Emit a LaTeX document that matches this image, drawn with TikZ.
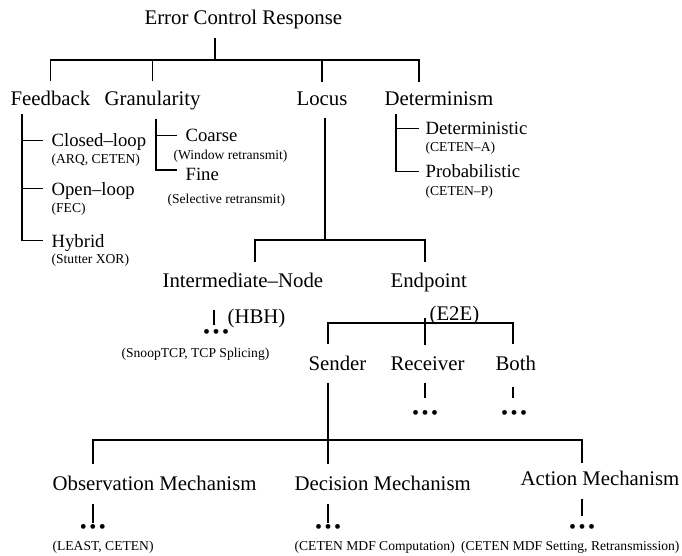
\documentclass[tikz,border=0pt]{standalone}
\usepackage{fontspec}
\setmainfont{Liberation Serif}
\tikzset{
  lbl/.style={inner sep=0pt, anchor=base west, font=\fontsize{20.8}{24}\selectfont},
  sub/.style={inner sep=0pt, anchor=base west, font=\fontsize{18.7}{22}\selectfont},
  note/.style={inner sep=0pt, anchor=base west, font=\fontsize{13.6}{16}\selectfont},
  more/.style={inner sep=0pt, font=\fontsize{20}{22}\selectfont},
}
\newcommand{\moredots}{\textbullet\hspace{2.5pt}\textbullet\hspace{2.5pt}\textbullet}
\begin{document}
\begin{tikzpicture}[x=1pt,y=-1pt,line width=1.2pt]
	\useasboundingbox (0,0) rectangle (682,556);
	% first level
	\node[lbl] (ecr) at (144,25) {Error Control Response};
	\node[lbl] (fb) at (10,106) {Feedback};
	\node[lbl] (gran) at (104,106) {Granularity};
	\node[lbl] (locus) at (296,106) {Locus};
	\node[lbl] (det) at (384,106) {Determinism};
	\coordinate (j-top) at (215,60);
	\draw (j-top |- ecr.south) ++(0,7.5) -- (j-top);
	\draw ([yshift=10pt]fb.north) |- (j-top) -| ([shift={(35pt,10pt)}]det.north west);
	\draw ([yshift=10pt]gran.north) -- (gran.north |- j-top);
	\draw ([yshift=10pt]locus.north) -- (locus.north |- j-top);
	% feedback
	\node[sub] (closed) at (51,147) {Closed--loop};
	\node[note] (closedx) at (51,164) {(ARQ, CETEN)};
	\node[sub] (open) at (51,195) {Open--loop};
	\node[note] (openx) at (51,212) {(FEC)};
	\node[sub] (hybrid) at (51,247) {Hybrid};
	\node[note] (hybridx) at (51,263) {(Stutter XOR)};
	\draw ([shift={(12pt,-7pt)}]fb.south west) |- ([shift={(-8pt,6.5pt)}]hybrid.base west);
	\draw ([shift={(-8pt,6.5pt)}]closed.base west) -- ++(-21,0);
	\draw ([shift={(-8pt,6.5pt)}]open.base west) -- ++(-21,0);
	% granularity
	\node[sub] (coarse) at (185,142) {Coarse};
	\node[note] (coarsex) at (173,160) {(Window retransmit)};
	\node[sub] (fine) at (185,180) {Fine};
	\node[note] (finex) at (167,204) {(Selective retransmit)};
	\draw ([shift={(52pt,-7.5pt)}]gran.south west) |- ([shift={(-8pt,10pt)}]fine.base west);
	\draw ([shift={(-8pt,6.5pt)}]coarse.base west) -- ++(-21,0);
	% determinism
	\node[sub] (determ) at (425,135) {Deterministic};
	\node[note] (determx) at (425,152) {(CETEN--A)};
	\node[sub] (prob) at (425,178) {Probabilistic};
	\node[note] (probx) at (425,195) {(CETEN--P)};
	\draw ([shift={(12pt,-7pt)}]det.south west) |- ([shift={(-6pt,6.5pt)}]prob.base west);
	\draw ([shift={(-6pt,6.5pt)}]determ.base west) -- ++(-23,0);
	% locus
	\node[lbl] (inter) at (162,287) {Intermediate--Node};
	\node[lbl] (endp) at (390,287) {Endpoint};
	\coordinate (j-locus) at (325,240);
	\draw ([shift={(29pt,-11pt)}]locus.south west) -- (j-locus);
	\draw ([shift={(93pt,10pt)}]inter.north west) |- (j-locus) -| ([shift={(35pt,10pt)}]endp.north west);
	% intermediate node
	\node[lbl] (hbh) at (227,323) {(HBH)};
	\node[more] (idots) at (216,334) {\moredots};
	\node[note] (interx) at (121,357) {(SnoopTCP, TCP Splicing)};
	\draw ([shift={(52pt,-22pt)}]inter.south west) -- ++(0,15);
	% endpoint
	\node[lbl] (e2e) at (429,320) {(E2E)};
	\node[lbl] (send) at (308,370) {Sender};
	\node[lbl] (recv) at (390,370) {Receiver};
	\node[lbl] (both) at (495,370) {Both};
	\coordinate (j-end) at (425,323);
	\draw ([shift={(35pt,-26pt)}]endp.south west) -- (j-end);
	\draw ([shift={(20pt,11pt)}]send.north west) |- (j-end) -| ([shift={(18pt,11pt)}]both.north west);
	\draw (j-end) -- ([shift={(35pt,11pt)}]recv.north west);
	\node[more] (rdots) at (425,415) {\moredots};
	\node[more] (bdots) at (514,415) {\moredots};
	\draw ([shift={(35pt,-12pt)}]recv.south west) -- ++(0,15);
	\draw ([shift={(18pt,-16pt)}]both.south west) -- ++(0,11);
	% sender
	\node[lbl] (obs) at (52,490) {Observation Mechanism};
	\node[lbl] (dec) at (294,490) {Decision Mechanism};
	\node[lbl, anchor=base east] (act) at (680,485) {Action Mechanism};
	\coordinate (j-send) at (328,440);
	\draw ([shift={(20pt,-12pt)}]send.south west) -- (j-send);
	\draw ([shift={(41pt,11pt)}]obs.north west) |- (j-send) -| ([shift={(-98pt,7pt)}]act.north east);
	\draw (j-send) -- ([shift={(34pt,11pt)}]dec.north west);
	\draw ([shift={(41pt,-13pt)}]obs.south west) -- ++(0,19);
	\draw ([shift={(34pt,-13pt)}]dec.south west) -- ++(0,19);
	\draw ([shift={(-98pt,-13pt)}]act.south east) -- ++(0,17);
	\node[more] (odots) at (93,529) {\moredots};
	\node[more] (ddots) at (328,529) {\moredots};
	\node[more] (adots) at (582,529) {\moredots};
	\node[note] (obsx) at (52,550) {(LEAST, CETEN)};
	\node[note] (decx) at (294,550) {(CETEN MDF Computation)};
	\node[note, anchor=base east] (actx) at (680,550) {(CETEN MDF Setting, Retransmission)};
\end{tikzpicture}
\end{document}
